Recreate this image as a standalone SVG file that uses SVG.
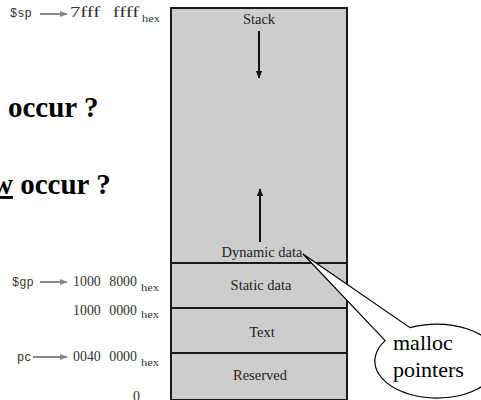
<svg xmlns="http://www.w3.org/2000/svg" width="481" height="400" viewBox="0 0 481 400">
<style>
.lbl{font-family:"Liberation Serif",serif;font-size:14.5px;fill:#222;text-anchor:middle}
.addr{font-family:"Liberation Serif",serif;font-size:14px;fill:#333;word-spacing:5px}
.hex{font-family:"Liberation Serif",serif;font-size:10px;fill:#333}
.reg{font-family:"Liberation Mono",monospace;font-size:12px;fill:#333}
.big{font-family:"Liberation Serif",serif;font-size:29px;font-weight:bold;fill:#000}
.seg{fill:#cdcdcd;stroke:#1a1a1a;stroke-width:2}
.div{stroke:#1a1a1a;stroke-width:2}
.garr{stroke:#888;stroke-width:2;fill:none}
.karr{stroke:#111;stroke-width:2;fill:none}
.call{font-family:"Liberation Serif",serif;font-size:22px;fill:#000}
</style>
<defs>
<marker id="gh" viewBox="0 0 10 10" refX="9" refY="5" markerWidth="4" markerHeight="4" orient="auto" markerUnits="strokeWidth"><path d="M0,1 L10,5 L0,9 z" fill="#888"/></marker>
<marker id="kh" viewBox="0 0 10 10" refX="9" refY="5" markerWidth="4" markerHeight="4" orient="auto" markerUnits="strokeWidth"><path d="M0,1 L10,5 L0,9 z" fill="#111"/></marker>
</defs>
<rect width="481" height="400" fill="#fff"/>

<g id="questions">
<text class="big" x="8" y="117">occur ?</text>
<text class="big" x="-8" y="194"><tspan text-decoration="underline">w</tspan> occur ?</text>
</g>

<g id="memory">
<rect class="seg" x="171" y="8" width="176" height="392"/>
<line class="div" x1="171" y1="263" x2="347" y2="263"/>
<line class="div" x1="171" y1="308" x2="347" y2="308"/>
<line class="div" x1="171" y1="353" x2="347" y2="353"/>
</g>

<g id="stack"><text class="lbl" x="259" y="24">Stack</text></g>
<g id="dynamic"><text class="lbl" x="262" y="257">Dynamic data</text></g>
<g id="static"><text class="lbl" x="261" y="290">Static data</text></g>
<g id="text"><text class="lbl" x="262" y="337">Text</text></g>
<g id="reserved"><text class="lbl" x="260" y="380">Reserved</text></g>

<g id="addr-sp">
<text class="reg" x="10" y="17">$sp</text>
<text class="addr" x="70" y="17" textLength="69" lengthAdjust="spacingAndGlyphs">7fff ffff</text>
<text class="hex" x="142" y="22" textLength="18" lengthAdjust="spacingAndGlyphs">hex</text>
</g>
<g id="addr-gp">
<text class="reg" x="12" y="286">$gp</text>
<text class="addr" x="73" y="286" textLength="64" lengthAdjust="spacingAndGlyphs">1000 8000</text>
<text class="hex" x="141" y="291" textLength="18" lengthAdjust="spacingAndGlyphs">hex</text>
</g>
<g id="addr-data">
<text class="addr" x="73" y="315" textLength="64" lengthAdjust="spacingAndGlyphs">1000 0000</text>
<text class="hex" x="141" y="318" textLength="18" lengthAdjust="spacingAndGlyphs">hex</text>
</g>
<g id="addr-pc">
<text class="reg" x="17" y="361">pc</text>
<text class="addr" x="73" y="361" textLength="64" lengthAdjust="spacingAndGlyphs">0040 0000</text>
<text class="hex" x="141" y="366" textLength="18" lengthAdjust="spacingAndGlyphs">hex</text>
</g>
<g id="addr-zero"><text class="addr" x="133" y="401">0</text></g>

<g id="callout">
<path d="M410,327.7 A62,37 0 1 1 385.2,340.6 L303,254 Z" fill="#fff" stroke="#000" stroke-width="1.2"/>
<text class="call" x="393" y="350">malloc</text>
<text class="call" x="393" y="377">pointers</text>
</g>

<g id="connectors">
<line class="garr" x1="40" y1="14" x2="67" y2="14" marker-end="url(#gh)"/>
<line class="garr" x1="40" y1="282" x2="67" y2="282" marker-end="url(#gh)"/>
<line class="garr" x1="33" y1="357" x2="67" y2="357" marker-end="url(#gh)"/>
<line class="karr" x1="259" y1="31" x2="259" y2="78" marker-end="url(#kh)"/>
<line class="karr" x1="260" y1="242" x2="260" y2="189" marker-end="url(#kh)"/>
</g>
</svg>
